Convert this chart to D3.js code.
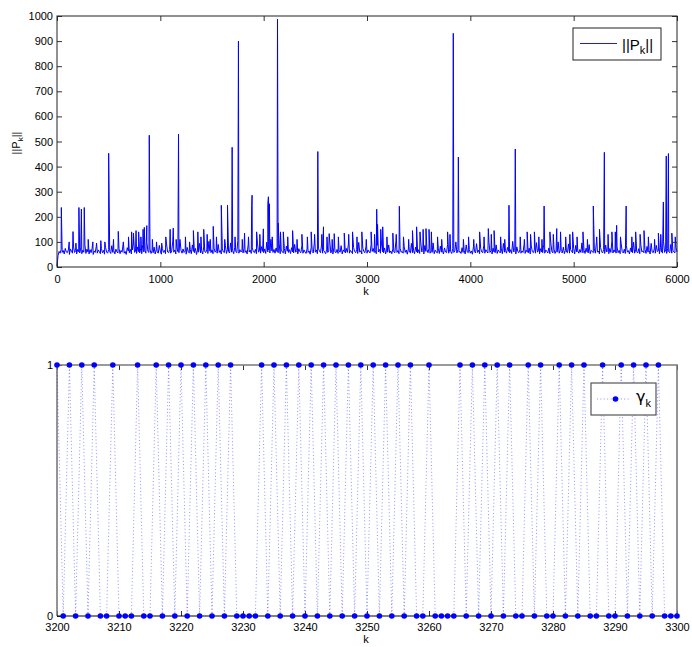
<!DOCTYPE html>
<html><head><meta charset="utf-8">
<script src="https://cdn.jsdelivr.net/npm/d3@7"></script>
<style>body{margin:0;background:#fff}svg text{font-family:"Liberation Sans",Arial,Helvetica,sans-serif;fill:#000}</style>
</head><body>
<svg id="c" width="692" height="647"></svg>
<script>
// ---------- top chart data: ||P_k|| ----------
const baseStep = 10; // baseline sampled every 10 k
const baseline = [
4,45,62,55,70,58,66,52,74,60,57,68,50,72,63,55,80,58,65,52,70,61,56,76,53,67,59,88,54,71,
60,52,69,57,75,50,64,58,82,55,68,61,53,73,57,66,51,78,60,55,70,62,54,85,58,65,52,71,60,56,
74,53,66,59,92,55,62,50,77,64,57,70,52,68,96,58,63,54,80,61,56,72,53,90,60,67,55,98,62,58,
71,54,65,57,79,52,68,60,55,86,63,51,74,58,66,53,92,60,57,70,55,64,100,59,68,52,76,61,57,110,
66,55,72,58,63,51,78,60,56,69,53,88,62,57,74,50,67,59,94,56,65,52,80,61,58,71,54,102,63,57,
68,53,75,59,64,55,90,58,66,52,72,60,57,84,54,70,61,56,96,59,66,53,78,62,57,105,55,69,60,64,
56,73,58,65,52,88,60,67,54,76,61,57,70,53,95,59,66,55,81,62,57,72,54,99,60,68,56,110,64,58,
70,55,76,61,57,92,53,67,60,56,74,52,83,63,58,69,54,77,60,56,90,59,65,52,73,61,57,86,55,68,
60,54,72,58,64,51,79,61,56,95,59,68,53,75,62,57,88,55,66,60,53,71,58,64,100,56,69,52,77,60,
57,70,54,64,59,85,52,68,61,56,74,58,92,55,66,60,53,78,62,57,69,54,98,59,65,52,73,61,57,82,
55,68,60,56,90,62,74,58,66,53,86,60,70,55,95,61,57,76,52,67,59,88,56,64,53,72,60,57,104,58,
66,53,75,59,62,55,82,58,68,51,71,60,56,94,57,65,53,79,61,56,69,54,100,60,66,52,86,62,70,57,
74,55,64,58,96,53,67,60,56,72,54,83,59,65,52,76,60,57,90,55,68,61,54,73,58,64,100,56,70,59,
62,54,77,58,66,52,88,60,57,70,55,64,51,80,61,56,93,58,67,53,74,60,57,85,55,69,61,56,99,58,
65,52,75,60,57,88,54,68,61,56,72,53,94,59,66,55,78,62,57,69,54,102,60,65,52,80,61,57,70,55,
64,58,90,54,67,60,56,75,52,84,61,57,69,55,97,59,66,53,73,60,57,88,55,68,62,56,76,53,92,60,
57,71,54,65,59,100,55,68,61,56,79,53,66,60,57,92,55,70,62,56,74,52,86,60,64,55,70,58,96,57,
67,54,75,60,56,89,53,66,61,57,72,55,98,59,64,52,78,61,56,70,54,87,60,65,53,74,58,104,56,68,
60,55,80,57,66,53,92,61,56,71,54,85,59,65,52,76,60,57,99,55,68,61,56,73,53,88,60,64,57,70,
54,82,59,66,52,94,60,57,72,55,86,61,65,53,77,60,56,100,58,68,54,74,61,57,90,55,67,60,56,78,
60];
// large visible spikes
const spikeK = [42,155,212,236,264,500,593,740,765,790,845,869,893,1095,1125,1176,1320,1420,1512,1590,1650,1695,1756,1815,1884,1888,1932,1997,2040,2046,2056,2134,2140,2190,2280,2370,2460,2524,2579,2634,2683,2780,2860,2950,3040,3094,3102,3152,3250,3313,3440,3480,3571,3600,3780,3835,3884,4090,4174,4230,4374,4435,4550,4620,4714,4770,4836,4990,5090,5190,5250,5297,5370,5416,5508,5600,5681,5820,5868,5896,5917,5950];
const spikeV = [237,141,237,231,237,453,142,135,145,140,158,165,525,150,155,529,145,150,162,246,246,477,900,135,245,286,140,152,250,280,252,988,175,140,145,130,140,460,160,133,133,135,140,140,140,230,170,160,135,242,145,160,153,150,140,931,438,140,153,145,246,470,140,140,243,140,153,140,140,243,150,457,140,166,243,140,145,135,259,442,452,135];
// smaller excursions above the noise band
const minorK = [118,183,302,347,383,424,463,547,642,692,722,812,833,923,963,1013,1053,1153,1243,1283,1363,1393,1453,1483,1543,1623,1723,1793,1853,1963,2083,2163,2233,2323,2423,2493,2563,2613,2663,2723,2823,2903,2993,3073,3133,3193,3283,3353,3403,3513,3543,3623,3683,3723,3803,3933,3983,4033,4133,4203,4293,4333,4483,4523,4583,4663,4693,4803,4873,4923,4963,5033,5133,5223,5333,5403,5453,5563,5643,5723,5783,5843,5983];
const minorV = [100,95,110,100,95,105,100,110,100,120,140,120,150,110,100,95,120,110,120,100,140,120,130,110,120,110,120,110,120,130,120,140,120,110,120,130,130,120,110,120,130,120,110,130,150,120,130,120,110,140,150,140,120,110,130,110,120,110,120,130,120,110,120,110,130,120,110,130,140,120,130,120,110,120,130,140,120,120,130,120,110,130,120];
const topXTicks = [0,1000,2000,3000,4000,5000,6000];
const topYTicks = [0,100,200,300,400,500,600,700,800,900,1000];

// ---------- bottom chart data: gamma_k ----------
const gammaStart = 3200;
const gammaVals = [
1,0,1,0,1,0,1,0,0,1,
0,0,0,1,0,0,1,0,1,0,
1,0,1,0,1,0,1,0,1,0,
0,0,0,1,0,1,0,1,0,1,
0,1,0,1,0,1,0,1,0,1,
0,1,0,1,0,1,0,1,0,0,
1,0,0,0,0,1,0,1,0,1,
0,1,0,1,0,0,1,0,1,0,
0,1,0,1,0,1,0,0,1,0,
0,1,0,1,0,1,0,1,0,0,
0];
const botXTicks = [3200,3210,3220,3230,3240,3250,3260,3270,3280,3290,3300];
const botYTicks = [0,1];

const svg = d3.select("#c");
const L = 57, R = 677;
const FS = "11px";

// ================= TOP =================
const T1 = 16, B1 = 267;
const x1 = d3.scaleLinear().domain([0,6000]).range([L,R]);
const y1 = d3.scaleLinear().domain([0,1000]).range([B1,T1]);

const pts = baseline.map((v,i)=>({k:i*baseStep,v}))
  .concat(spikeK.map((k,i)=>({k,v:spikeV[i]})))
  .concat(minorK.map((k,i)=>({k,v:minorV[i]})))
  .sort((a,b)=>a.k-b.k);

svg.append("path").datum(pts)
  .attr("fill","none").attr("stroke","#0000ff").attr("stroke-width",1)
  .attr("d", d3.line().x(d=>x1(d.k)).y(d=>y1(d.v)));

function styleAxis(g){
  g.select(".domain").remove();
  g.selectAll(".tick line").attr("stroke","#333");
  g.selectAll("text").style("font-size",FS).attr("fill","#000");
}
svg.append("g").attr("transform",`translate(0,${B1})`)
  .call(d3.axisBottom(x1).tickValues(topXTicks).tickSize(-5).tickPadding(8).tickFormat(d3.format("d"))).call(styleAxis);
svg.append("g").attr("transform",`translate(0,${T1})`)
  .call(d3.axisTop(x1).tickValues(topXTicks).tickSize(-5).tickFormat("")).call(styleAxis);
svg.append("g").attr("transform",`translate(${L},0)`)
  .call(d3.axisLeft(y1).tickValues(topYTicks).tickSize(-5).tickPadding(4).tickFormat(d3.format("d"))).call(styleAxis);
svg.append("g").attr("transform",`translate(${R},0)`)
  .call(d3.axisRight(y1).tickValues(topYTicks).tickSize(-5).tickFormat("")).call(styleAxis);
svg.append("rect").attr("x",L).attr("y",T1).attr("width",R-L).attr("height",B1-T1)
  .attr("fill","none").attr("stroke","#222").attr("stroke-width",1);

svg.append("text").attr("x",366).attr("y",295).attr("text-anchor","middle").style("font-size","11px").text("k");
const yl = svg.append("text").attr("transform","translate(20,143) rotate(-90)").attr("text-anchor","middle").style("font-size","11px");
yl.append("tspan").text("||P");
yl.append("tspan").attr("dy",3).style("font-size","8px").text("k");
yl.append("tspan").attr("dy",-3).text("||");

// legend top
const lg1 = svg.append("g");
lg1.append("rect").attr("x",573).attr("y",28).attr("width",88).attr("height",32)
  .attr("fill","#fff").attr("stroke","#222").attr("stroke-width",1);
lg1.append("line").attr("x1",580).attr("x2",617).attr("y1",43.5).attr("y2",43.5)
  .attr("stroke","#0000ff").attr("stroke-width",0.9);
const lt1 = lg1.append("text").attr("x",622).attr("y",50).style("font-size","15px");
lt1.append("tspan").text("||P");
lt1.append("tspan").attr("dy",4).style("font-size","11px").text("k");
lt1.append("tspan").attr("dy",-4).text("||");

// ================= BOTTOM =================
const T2 = 365, B2 = 616;
const x2 = d3.scaleLinear().domain([3200,3300]).range([L,R]);
const y2 = d3.scaleLinear().domain([0,1]).range([B2,T2]);
const gpts = gammaVals.map((v,i)=>({k:gammaStart+i,v}));

svg.append("g").attr("transform",`translate(0,${B2})`)
  .call(d3.axisBottom(x2).tickValues(botXTicks).tickSize(-5).tickPadding(7).tickFormat(d3.format("d"))).call(styleAxis);
svg.append("g").attr("transform",`translate(0,${T2})`)
  .call(d3.axisTop(x2).tickValues(botXTicks).tickSize(-5).tickFormat("")).call(styleAxis);
svg.append("g").attr("transform",`translate(${L},0)`)
  .call(d3.axisLeft(y2).tickValues(botYTicks).tickSize(-5).tickPadding(4).tickFormat(d3.format("d"))).call(styleAxis);

// box: top/left/right gray, bottom black
svg.append("path").attr("d",`M${L},${B2}V${T2}H${R}V${B2}`)
  .attr("fill","none").attr("stroke","#7a7a7a").attr("stroke-width",1.6);
svg.append("line").attr("x1",L).attr("x2",R).attr("y1",B2).attr("y2",B2)
  .attr("stroke","#000").attr("stroke-width",1);

svg.append("path").datum(gpts)
  .attr("fill","none").attr("stroke","#0000ff").attr("stroke-width",0.8)
  .attr("stroke-opacity",0.55).attr("stroke-dasharray","1,2.4")
  .attr("d", d3.line().x(d=>x2(d.k)).y(d=>y2(d.v)));
svg.append("g").selectAll("circle").data(gpts).join("circle")
  .attr("cx",d=>x2(d.k)).attr("cy",d=>y2(d.v)).attr("r",2.8).attr("fill","#0000ff");

svg.append("text").attr("x",366).attr("y",643).attr("text-anchor","middle").style("font-size","11px").text("k");

// legend bottom
const lg2 = svg.append("g");
lg2.append("rect").attr("x",591).attr("y",383).attr("width",65).attr("height",32)
  .attr("fill","#fff").attr("stroke","#555").attr("stroke-width",1.2);
lg2.append("line").attr("x1",597).attr("x2",630).attr("y1",399).attr("y2",399)
  .attr("stroke","#0000ff").attr("stroke-width",0.8).attr("stroke-opacity",0.55).attr("stroke-dasharray","1,2.4");
lg2.append("circle").attr("cx",615.5).attr("cy",399).attr("r",2.8).attr("fill","#0000ff");
const lt2 = lg2.append("text").attr("x",636).attr("y",402).style("font-size","16px").style("font-family","'DejaVu Sans',sans-serif");
lt2.append("tspan").text("γ");
lt2.append("tspan").attr("dy",5).style("font-size","11px").style("font-family","'Liberation Sans',Arial,sans-serif").text("k");
</script>
</body></html>
